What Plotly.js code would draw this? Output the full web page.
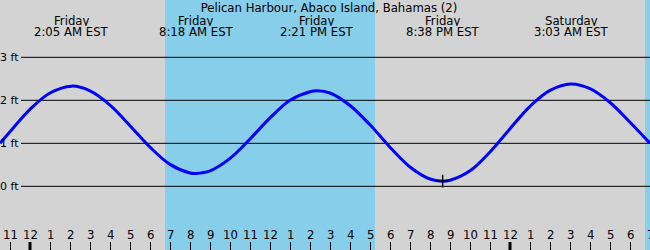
<!DOCTYPE html>
<html>
<head>
<meta charset="utf-8">
<script src="https://cdn.plot.ly/plotly-3.0.1.min.js"></script>
<style>html,body{margin:0;padding:0;background:#d3d3d3;}#chart{width:650px;height:250px;}</style>
</head>
<body>
<div id="chart"></div>
<script>
// Hours measured from Friday 00:00 (local EST)
const tideHours = [-1.5, -1, 0, 1, 2.083, 3, 4, 5, 6, 7, 8, 8.3, 9, 10, 11, 12, 13, 14, 14.35, 15, 16, 17, 18, 19, 20, 20.633, 21, 22, 23, 24, 25, 26, 27.05, 28, 29, 30, 31];
const tideFeet  = [1.00, 1.27, 1.79, 2.17, 2.33, 2.22, 1.89, 1.41, 0.91, 0.51, 0.31, 0.30, 0.36, 0.65, 1.10, 1.59, 2.00, 2.20, 2.22, 2.17, 1.88, 1.43, 0.91, 0.45, 0.17, 0.12, 0.14, 0.36, 0.80, 1.34, 1.86, 2.23, 2.38, 2.27, 1.95, 1.49, 1.00];

const extremeHours  = [2.083, 8.3, 14.35, 20.633, 27.05];
const extremeFeet   = [2.33, 0.30, 2.22, 0.12, 2.38];
const extremeDays   = ['Friday', 'Friday', 'Friday', 'Friday', 'Saturday'];
const extremeTimes  = ['2:05 AM EST', '8:18 AM EST', '2:21 PM EST', '8:38 PM EST', '3:03 AM EST'];

const markedHours = [20.633];
const markedFeet  = [0.12];

const daylightStart = [6.75, 30.75];
const daylightEnd   = [17.25, 33];

const hourTicks  = [-1,0,1,2,3,4,5,6,7,8,9,10,11,12,13,14,15,16,17,18,19,20,21,22,23,24,25,26,27,28,29,30,31];
const hourLabels = ['11','12','1','2','3','4','5','6','7','8','9','10','11','12','1','2','3','4','5','6','7','8','9','10','11','12','1','2','3','4','5','6','7'];
const midnightHours = [0, 24];

const feetTicks  = [0, 1, 2, 3];
const feetLabels = ['0 ft', '1 ft', '2 ft', '3 ft'];

const titleText = 'Pelican Harbour, Abaco Island, Bahamas (2)';

const W = 650, H = 250;
const FONT = 'DejaVu Sans';
const FS = 11.7;

const shapes = [];
daylightStart.forEach((s, i) => {
  shapes.push({type:'rect', layer:'below', xref:'x', yref:'paper', x0:s, x1:daylightEnd[i], y0:0, y1:1,
    fillcolor:'#87ceeb', line:{width:0}});
});
feetTicks.forEach(v => {
  shapes.push({type:'line', layer:'below', xref:'paper', yref:'y', x0:21/W, x1:1, y0:v, y1:v,
    line:{color:'#000', width:1}});
});
midnightHours.forEach(h => {
  shapes.push({type:'line', xref:'x', yref:'paper', x0:h, x1:h, y0:0, y1:8/H,
    line:{color:'#000', width:3}});
});

const annotations = [];
feetTicks.forEach((v, i) => {
  annotations.push({xref:'paper', yref:'y', x:19.5/W, y:v, xanchor:'right', yanchor:'middle',
    text:feetLabels[i], showarrow:false, font:{family:FONT, size:11, color:'#000'}, borderpad:0});
});
hourTicks.forEach((h, i) => {
  annotations.push({xref:'x', yref:'paper', x:h, y:(H-235)/H, xanchor:'center', yanchor:'middle',
    text:hourLabels[i], showarrow:false, font:{family:FONT, size:FS, color:'#000'}, borderpad:0});
});
extremeHours.forEach((h, i) => {
  annotations.push({xref:'x', yref:'paper', x:h, y:(H-20.5)/H, xanchor:'center', yanchor:'middle', height:11,
    text:extremeDays[i], showarrow:false, font:{family:FONT, size:FS, color:'#000'}, borderpad:0});
  annotations.push({xref:'x', yref:'paper', x:h, y:(H-31.5)/H, xanchor:'center', yanchor:'middle', height:11,
    text:extremeTimes[i], showarrow:false, font:{family:FONT, size:FS, color:'#000'}, borderpad:0});
});

const traces = [
  {x:tideHours, y:tideFeet, type:'scatter', mode:'lines',
   line:{color:'#0000ff', width:3, shape:'spline', smoothing:1}, hoverinfo:'skip'},
  {x:markedHours, y:markedFeet, type:'scatter', mode:'markers',
   marker:{symbol:'cross-thin', size:9, color:'#000', line:{color:'#000', width:1.5}}, hoverinfo:'skip'}
];

const layout = {
  width:W, height:H,
  margin:{l:0, r:0, t:0, b:0, pad:0},
  paper_bgcolor:'#d3d3d3', plot_bgcolor:'#d3d3d3',
  showlegend:false,
  title:{text:titleText, x:329/W, xanchor:'center', xref:'paper', y:1-7.5/H, yanchor:'middle',
    font:{family:FONT, size:FS, color:'#000'}},
  xaxis:{range:[-1.5, 31], tickmode:'array', tickvals:hourTicks, showticklabels:false,
    ticks:'inside', ticklen:8, tickwidth:1, tickcolor:'#000', showgrid:false, zeroline:false, showline:false, fixedrange:true},
  yaxis:{range:[-1.481, 4.333], showticklabels:false, ticks:'', showgrid:false, zeroline:false, showline:false, fixedrange:true},
  shapes:shapes,
  annotations:annotations
};

Plotly.newPlot('chart', traces, layout, {staticPlot:true, displayModeBar:false});
</script>
</body>
</html>
